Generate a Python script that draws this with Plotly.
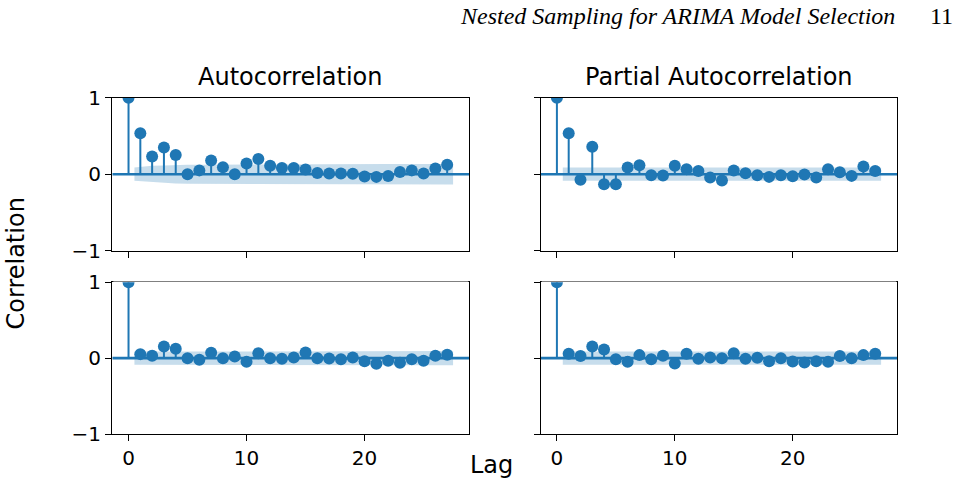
import plotly.graph_objects as go

# ---- data ----
lags = list(range(28))

acf_top = [1.0, 0.535, 0.23, 0.35, 0.25, 0.0, 0.05, 0.18, 0.09, 0.0, 0.14, 0.20, 0.11, 0.08,
           0.08, 0.06, 0.015, 0.01, 0.01, 0.005, -0.03, -0.035, -0.025, 0.03, 0.05, 0.01, 0.075, 0.125]
pacf_top = [1.0, 0.535, -0.074, 0.36, -0.13, -0.13, 0.087, 0.117, -0.013, -0.017, 0.11, 0.065, 0.043,
            -0.043, -0.083, 0.048, 0.013, -0.013, -0.035, -0.013, -0.026, -0.004, -0.043, 0.065, 0.026,
            -0.022, 0.10, 0.043]
acf_bot = [1.0, 0.053, 0.031, 0.155, 0.124, 0.0, -0.022, 0.071, 0.0, 0.022, -0.049, 0.066, 0.0, -0.009,
           0.009, 0.075, 0.0, -0.004, -0.013, 0.009, -0.04, -0.075, -0.035, -0.062, -0.013, -0.035, 0.031, 0.044]
pacf_bot = [1.0, 0.058, 0.027, 0.155, 0.115, -0.013, -0.049, 0.04, -0.013, 0.031, -0.071, 0.058, -0.009,
            0.009, 0.0, 0.066, -0.009, 0.004, -0.04, 0.0, -0.044, -0.058, -0.04, -0.049, 0.027, 0.0, 0.04, 0.058]

# confidence band half-widths for lags 1..27
band_acf_top = [0.087, 0.109, 0.113, 0.121, 0.125, 0.125, 0.126, 0.127, 0.128, 0.128, 0.129, 0.131, 0.132,
                0.132, 0.133, 0.133, 0.133, 0.133, 0.133, 0.133, 0.133, 0.133, 0.133, 0.133, 0.134, 0.134, 0.134]
band_pacf_top = [0.087] * 27
band_acf_bot = [0.087, 0.087, 0.087, 0.088, 0.091, 0.091, 0.091, 0.091, 0.091, 0.091, 0.091, 0.092, 0.092,
                0.092, 0.092, 0.092, 0.092, 0.092, 0.092, 0.092, 0.092, 0.092, 0.093, 0.093, 0.093, 0.093, 0.093]
band_pacf_bot = [0.087] * 27

titles = ["Autocorrelation", "Partial Autocorrelation"]
y_ticks = [-1, 0, 1]
y_ticktext = ["\u22121", "0", "1"]
x_ticks = [0, 10, 20]

BLUE = "#1f77b4"
BAND = "rgba(31,119,180,0.25)"
FONT = "DejaVu Sans"
W, H = 964, 485

fig = go.Figure()

panels = [
    (acf_top, band_acf_top, "x", "y"),
    (pacf_top, band_pacf_top, "x2", "y2"),
    (acf_bot, band_acf_bot, "x3", "y3"),
    (pacf_bot, band_pacf_bot, "x4", "y4"),
]

XR = [-1.375, 28.875]

for vals, band, xa, ya in panels:
    bx = [float(l) for l in lags[1:]]
    bx[0] -= 0.5
    bx[-1] += 0.5
    fig.add_trace(go.Scatter(x=bx + bx[::-1], y=band + [-b for b in band[::-1]],
                             fill="toself", fillcolor=BAND, line=dict(width=0),
                             mode="lines", hoverinfo="skip", showlegend=False, xaxis=xa, yaxis=ya))
    sx, sy = [], []
    for l, v in zip(lags, vals):
        sx += [l, l, None]
        sy += [0, v, None]
    fig.add_trace(go.Scatter(x=sx, y=sy, mode="lines", line=dict(color=BLUE, width=2),
                             showlegend=False, xaxis=xa, yaxis=ya))
    fig.add_trace(go.Scatter(x=XR, y=[0, 0], mode="lines", line=dict(color=BLUE, width=2.6),
                             showlegend=False, xaxis=xa, yaxis=ya))
    fig.add_trace(go.Scatter(x=lags, y=vals, mode="markers",
                             marker=dict(color=BLUE, size=12, line=dict(width=0)),
                             showlegend=False, xaxis=xa, yaxis=ya, cliponaxis=True))

xl = [112.3 / W, 469.3 / W]
xr = [540.7 / W, 897.3 / W]
yt = [1 - 250.7 / H, 1 - 97.7 / H]
yb = [1 - 434.0 / H, 1 - 282.3 / H]

common = dict(showgrid=False, zeroline=False, showline=True, linecolor="black", linewidth=1.4,
              mirror=True, ticks="outside", ticklen=6, tickwidth=1.4, tickcolor="black",
              automargin=False,
              tickfont=dict(family=FONT, size=20, color="black"))

def xaxis(dom, anchor, labels):
    return dict(domain=dom, anchor=anchor, range=XR, tickvals=x_ticks, showticklabels=labels, **common)

def yaxis(dom, anchor, labels):
    return dict(domain=dom, anchor=anchor, range=[-1, 1], tickvals=y_ticks, ticktext=y_ticktext,
                showticklabels=labels, **common)

fig.update_layout(
    width=W, height=H, margin=dict(l=0, r=0, t=0, b=0),
    paper_bgcolor="white", plot_bgcolor="white",
    xaxis=xaxis(xl, "y", False), yaxis=yaxis(yt, "x", True),
    xaxis2=xaxis(xr, "y2", False), yaxis2=yaxis(yt, "x2", False),
    xaxis3=xaxis(xl, "y3", True), yaxis3=yaxis(yb, "x3", True),
    xaxis4=xaxis(xr, "y4", True), yaxis4=yaxis(yb, "x4", False),
)

# white masks to clip the lag-0 markers at the top edge of each panel
shapes = []
for dx, dy in [(xl, yt), (xr, yt), (xl, yb), (xr, yb)]:
    shapes.append(dict(type="rect", xref="paper", yref="paper", layer="above",
                       x0=dx[0] + 1 / W, x1=dx[1] - 1 / W, y0=dy[1] + 0.8 / H, y1=dy[1] + 9 / H,
                       fillcolor="white", line=dict(width=0)))
fig.update_layout(shapes=shapes)

annos = [
    dict(text=titles[0], x=(xl[0] + xl[1]) / 2, y=1 - 77 / H, font=dict(family=FONT, size=24, color="black")),
    dict(text=titles[1], x=(xr[0] + xr[1]) / 2, y=1 - 77 / H, font=dict(family=FONT, size=24, color="black")),
    dict(text="Correlation", x=15 / W, y=1 - 263.5 / H, textangle=-90, font=dict(family=FONT, size=24, color="black")),
    dict(text="Lag", x=492 / W, y=1 - 465 / H, font=dict(family=FONT, size=24, color="black")),
    dict(text="<i>Nested Sampling for ARIMA Model Selection</i>", x=897 / W, y=1 - 16 / H, xanchor="right",
         font=dict(family="Liberation Serif", size=24, color="black")),
    dict(text="11", x=955 / W, y=1 - 16 / H, xanchor="right",
         font=dict(family="Liberation Serif", size=24, color="black")),
]
for a in annos:
    a.setdefault("xanchor", "center")
    a.update(xref="paper", yref="paper", yanchor="middle", showarrow=False)
fig.update_layout(annotations=annos)

fig.write_html("out.html")
